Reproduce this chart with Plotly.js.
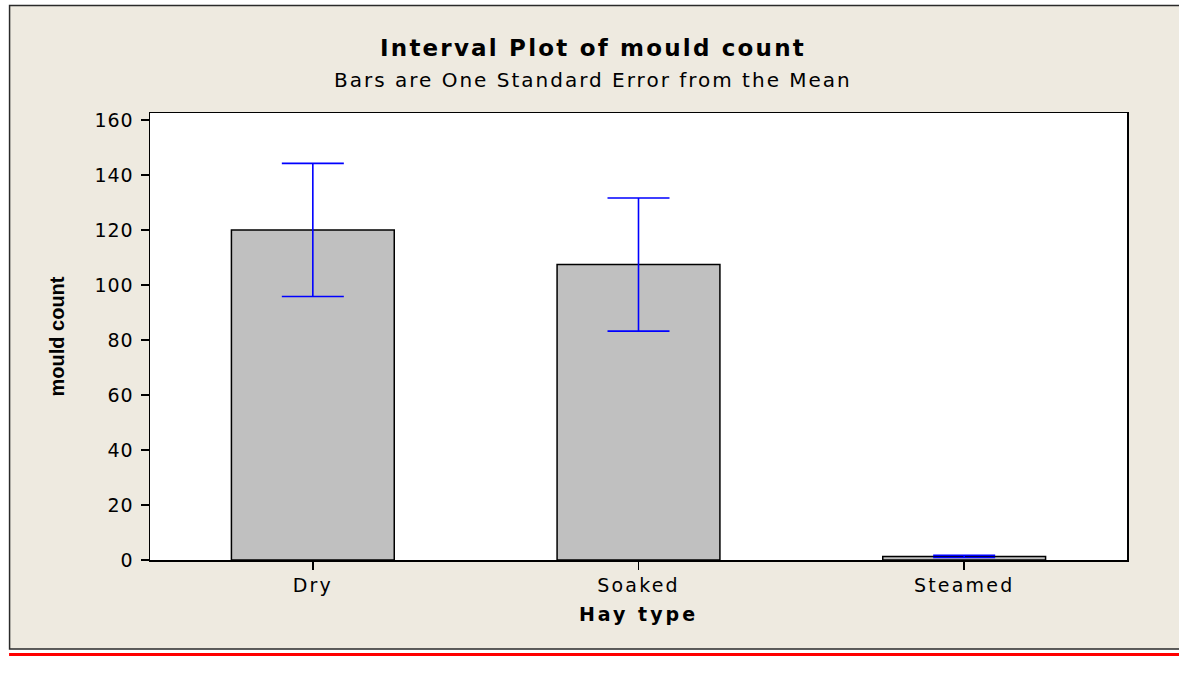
<!DOCTYPE html>
<html>
<head>
<meta charset="utf-8">
<script src="https://cdn.plot.ly/plotly-3.0.1.min.js"></script>
<style>
  html, body { margin: 0; padding: 0; background: #ffffff; }
  #chart { width: 1179px; height: 696px; }
  .xtick text { letter-spacing: 2.2px; }
  .ytick text { letter-spacing: 1px; }
  .gtitle { letter-spacing: 2.2px; }
  .annotation-text { letter-spacing: 2px; }
  .xtitle { letter-spacing: 3px; }
</style>
</head>
<body>
<div id="chart"></div>
<script>
// Data
const categories = ["Dry", "Soaked", "Steamed"];
const meanValues = [120.0, 107.4, 1.3];
const stdErrors = [24.2, 24.2, 0.4];
const yTickValues = [0, 20, 40, 60, 80, 100, 120, 140, 160];

const chartTitle = "Interval Plot of mould count";
const chartSubtitle = "Bars are One Standard Error from the Mean";
const xTitle = "Hay type";
const yTitle = "mould count";

const trace = {
  type: "bar",
  x: categories,
  y: meanValues,
  width: 0.5,
  marker: { color: "#c0c0c0", line: { color: "#000000", width: 1.5 } },
  error_y: { type: "data", array: stdErrors, visible: true, color: "#0000ff", thickness: 1.6, width: 31 },
  hoverinfo: "none"
};

const layout = {
  width: 1179,
  height: 696,
  paper_bgcolor: "#ffffff",
  plot_bgcolor: "rgba(0,0,0,0)",
  margin: { l: 150, r: 51.5, t: 113, b: 136, pad: 0 },
  showlegend: false,
  font: { family: "DejaVu Sans, Verdana, sans-serif", color: "#000000" },
  title: {
    text: chartTitle,
    font: { family: "DejaVu Sans", size: 23, weight: "bold", color: "#000000" },
    x: 593 / 1179, xref: "container", xanchor: "center",
    y: 1 - 48 / 696, yref: "container", yanchor: "middle"
  },
  annotations: [
    { text: chartSubtitle, xref: "paper", yref: "paper",
      x: (593 - 150) / 977.5, y: (560 - 80) / 447, xanchor: "center", yanchor: "middle",
      showarrow: false, font: { family: "DejaVu Sans", size: 20, color: "#000000" } }
  ],
  xaxis: {
    range: [-0.5, 2.5],
    showline: true, linecolor: "#000000", linewidth: 1.5, mirror: true,
    ticks: "outside", ticklen: 8, tickwidth: 1.5, tickcolor: "#000000",
    showgrid: false, zeroline: false,
    tickfont: { family: "DejaVu Sans", size: 19, color: "#000000" },
    title: { text: xTitle, standoff: 12, font: { family: "DejaVu Sans", size: 19, weight: "bold", color: "#000000" } },
    fixedrange: true
  },
  yaxis: {
    range: [0, 162.5],
    tickvals: yTickValues,
    showline: true, linecolor: "#000000", linewidth: 1.5, mirror: true,
    ticks: "outside", ticklen: 8, tickwidth: 1.5, tickcolor: "#000000",
    showgrid: false, zeroline: false,
    tickfont: { family: "DejaVu Sans", size: 19, color: "#000000" },
    ticklabelstandoff: 3,
    title: { text: yTitle, standoff: 24, font: { family: "Liberation Sans, Arial, sans-serif", size: 20, weight: "bold", color: "#000000" } },
    fixedrange: true
  },
  shapes: [
    { type: "rect", xref: "paper", yref: "paper", layer: "below",
      x0: (9.5 - 150) / 977.5, x1: (1182 - 150) / 977.5,
      y0: (560 - 649) / 447, y1: (560 - 5.5) / 447,
      fillcolor: "#eeeae0", line: { color: "#2a2a2a", width: 1.5 } },
    { type: "rect", xref: "x domain", yref: "y domain", layer: "below",
      x0: 0, x1: 1, y0: 0, y1: 1,
      fillcolor: "#ffffff", line: { width: 0 } },
    { type: "line", xref: "paper", yref: "paper", layer: "above",
      x0: (9 - 150) / 977.5, x1: (1182 - 150) / 977.5,
      y0: (560 - 654.5) / 447, y1: (560 - 654.5) / 447,
      line: { color: "#ff0000", width: 3 } }
  ]
};

Plotly.newPlot("chart", [trace], layout, { displayModeBar: false, staticPlot: true });
</script>
</body>
</html>
